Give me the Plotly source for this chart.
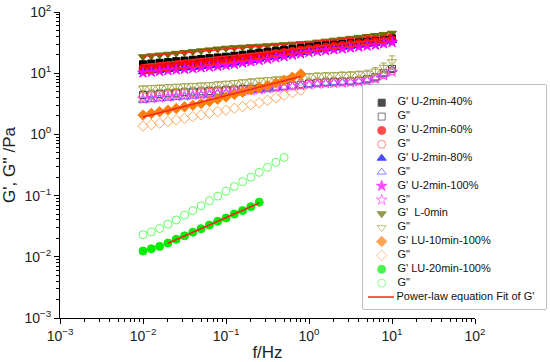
import numpy as np
import plotly.graph_objects as go

# frequency grid (10 points per decade from 0.01 Hz)
freq = [round(10 ** (-2 + 0.1 * k), 5) for k in range(31)]

# G' series (Pa)
gp_40 = [14.0,14.4,14.8,15.2,15.7,16.1,16.6,17.1,17.6,18.1,18.6,19.3,20.0,20.8,21.6,22.4,23.2,24.0,24.9,25.9,27.0,27.8,28.6,29.4,30.3,31.2,32.1,33.1,34.1,35.5,37.0]
gp_60 = [12.0,12.4,12.8,13.2,13.7,14.1,14.5,14.9,15.3,15.6,16.0,16.8,17.6,18.4,19.2,20.1,21.0,21.9,22.9,23.9,25.0,25.9,26.8,27.7,28.6,29.6,30.6,31.6,32.6,34.0,35.5]
gp_80 = [10.6,10.9,11.2,11.5,11.9,12.2,12.5,12.9,13.3,13.6,14.0,14.7,15.4,16.2,17.0,17.9,18.8,19.7,20.7,21.8,23.0,23.9,24.8,25.7,26.6,27.6,28.6,29.7,30.8,32.3,34.0]
gp_100 = [10.2,10.5,10.8,11.1,11.4,11.7,12.0,12.4,12.8,13.1,13.5,14.1,14.8,15.5,16.3,17.1,18.0,18.9,19.9,20.9,22.0,22.8,23.6,24.4,25.2,26.1,27.0,28.0,29.0,30.5,32.0]
gp_l0 = [18.6,19.2,19.8,20.4,21.1,21.8,22.5,23.2,24.0,24.8,25.6,26.1,26.6,27.1,27.6,28.1,28.6,29.2,29.8,30.4,31.0,32.2,33.4,34.6,35.8,37.1,38.4,39.8,41.3,43.0,45.0]

# G'' series (Pa)
gpp_40 = [4.4,4.5,4.6,4.7,4.8,4.9,5.0,5.05,5.1,5.2,5.3,5.4,5.5,5.6,5.7,5.85,6.0,6.15,6.3,6.5,6.8,7.0,7.1,7.2,7.3,7.4,7.6,8.0,8.6,10.0,11.7]
gpp_60 = [4.2,4.3,4.4,4.5,4.6,4.7,4.8,4.85,4.9,5.0,5.1,5.2,5.3,5.45,5.6,5.75,5.9,6.05,6.2,6.45,6.7,6.9,7.0,7.1,7.2,7.3,7.5,7.8,8.3,9.5,11.0]
gpp_80 = [3.6,3.7,3.8,3.9,4.0,4.1,4.2,4.35,4.45,4.6,4.7,4.85,5.0,5.15,5.3,5.5,5.7,5.9,6.1,6.3,6.5,6.7,6.85,7.0,7.1,7.2,7.4,7.8,8.4,9.8,11.5]
gpp_100 = [3.8,3.9,4.0,4.1,4.2,4.3,4.4,4.5,4.6,4.7,4.8,4.95,5.1,5.25,5.4,5.6,5.8,5.95,6.1,6.3,6.5,6.7,6.8,6.9,7.0,7.1,7.3,7.6,8.1,9.2,10.5]
gpp_l0 = [5.7,5.8,5.9,6.0,6.1,6.2,6.3,6.4,6.5,6.65,6.8,7.0,7.2,7.4,7.6,7.8,8.0,8.2,8.4,8.7,9.0,9.2,9.3,9.4,9.5,9.6,9.8,10.0,10.8,12.5,15.4]
gpp_l0_err = [0.5,0.5,0.5,0.5,0.5,0.5,0.5,0.5,0.5,0.6,0.6,0.6,0.6,0.7,0.7,0.7,0.7,0.7,0.8,0.8,0.9,0.9,0.9,0.9,1.0,1.0,1.0,1.2,1.5,2.2,3.8]

# LU-10min-100% (20 points)
gp_lu10 = [2.07,2.2,2.34,2.49,2.65,2.82,3.0,3.2,3.45,3.75,4.1,4.5,4.9,5.35,5.8,6.3,6.9,7.6,8.6,9.7]
gpp_lu10 = [1.37,1.45,1.53,1.62,1.72,1.83,1.95,2.08,2.22,2.36,2.5,2.67,2.85,3.05,3.3,3.6,3.95,4.35,4.8,5.3]

# LU-20min-100%
gp_lu20 = [0.0124,0.0135,0.0148,0.0168,0.0193,0.022,0.0252,0.0288,0.033,0.038,0.043,0.050,0.057,0.066,0.078]
gpp_lu20 = [0.023,0.0255,0.029,0.034,0.040,0.048,0.057,0.068,0.082,0.098,0.118,0.141,0.169,0.20,0.24,0.29,0.35,0.42,0.50]

# legend labels (in order)
legend_labels = ["G' U-2min-40%", 'G"', "G' U-2min-60%", 'G"', "G' U-2min-80%", 'G"',
                 "G' U-2min-100%", 'G"', "G'&nbsp;&nbsp;L-0min", 'G"', "G' LU-10min-100%", 'G"',
                 "G' LU-20min-100%", 'G"', "Power-law equation Fit of G'"]

fit_color = "#FF2020"
olive = "#6E6E00"
olive_l = "#A6A650"

styles = [
    ("square", "#000000", 7), ("square-open", "#404040", 7),
    ("circle", "#FF0000", 8), ("circle-open", "#FF5050", 8),
    ("triangle-up", "#0000FF", 8), ("triangle-up-open", "#5050FF", 8),
    ("star", "#FF00FF", 8), ("star-open", "#FF40FF", 8),
    ("triangle-down", olive, 8), ("triangle-down-open", olive_l, 8),
    ("diamond", "#FF7F0E", 8), ("diamond-open", "#FFAA60", 8),
    ("circle", "#00EE00", 8), ("circle-open", "#60FF60", 8),
]

fig = go.Figure()

def add(x, y, idx, err=None):
    symbol, color, size = styles[idx]
    kw = {}
    if err is not None:
        kw["error_y"] = dict(type="data", array=err, visible=True, color=color, thickness=1, width=3)
    fig.add_trace(go.Scatter(
        x=x, y=y, mode="markers", showlegend=False,
        marker=dict(symbol=symbol, color=color, size=size,
                    line=dict(color=color, width=1)),
        **kw))

def add_fit(x, y, start=0):
    x = np.asarray(x[:len(y)])[start:]
    y = np.asarray(y)[start:]
    n, c = np.polyfit(np.log10(x), np.log10(y), 1)
    xs = np.array([x[0], x[-1]])
    fig.add_trace(go.Scatter(
        x=xs, y=10 ** (c + n * np.log10(xs)), mode="lines",
        line=dict(color=fit_color, width=1.5), showlegend=False))

add(freq, gpp_40, 1)
add(freq, gpp_60, 3)
add(freq, gpp_80, 5)
add(freq, gpp_100, 7)
add(freq, gpp_l0, 9, err=gpp_l0_err)
add(freq, gp_l0, 8)
add(freq, gp_40, 0)
add(freq, gp_60, 2)
add(freq, gp_80, 4)
add(freq, gp_100, 6)
add(freq[:20], gpp_lu10, 11)
add(freq[:20], gp_lu10, 10)
add(freq[:18], gpp_lu20, 13)
add(freq[:15], gp_lu20, 12)

add_fit(freq, gp_l0)
add_fit(freq, gp_40)
add_fit(freq, gp_80)
add_fit(freq, gp_lu10)
add_fit(freq, gp_lu20, start=3)

# ---- hand-built legend on a hidden helper axis (rows indexed 0..14) ----
rows = list(range(len(legend_labels)))
fig.add_trace(go.Scatter(
    x=[18.7] * len(styles), y=rows[:len(styles)], mode="markers",
    marker=dict(symbol=[s[0] for s in styles], color=[s[1] for s in styles],
                size=[s[2] for s in styles], line=dict(color=[s[1] for s in styles], width=1)),
    xaxis="x2", yaxis="y2", showlegend=False, hoverinfo="skip", cliponaxis=False))
fig.add_trace(go.Scatter(
    x=[5, 31], y=[rows[-1], rows[-1]], mode="lines",
    line=dict(color=fit_color, width=1.5),
    xaxis="x2", yaxis="y2", showlegend=False, hoverinfo="skip"))
fig.add_trace(go.Scatter(
    x=[34.5] * (len(legend_labels) - 1) + [33.5], y=rows, mode="text",
    text=legend_labels, textposition="middle right",
    textfont=dict(size=11, color="#111", family="Liberation Sans, Arial, sans-serif"),
    xaxis="x2", yaxis="y2", showlegend=False, hoverinfo="skip", cliponaxis=False))

tickvals = [1e-3, 1e-2, 1e-1, 1, 10, 100]
ticktext = ["10<sup>\u22123</sup>", "10<sup>\u22122</sup>", "10<sup>\u22121</sup>",
            "10<sup>0</sup>", "10<sup>1</sup>", "10<sup>2</sup>"]
minor_vals = [m * 10.0 ** e for e in range(-3, 2) for m in range(2, 10)]

axis_common = dict(
    type="log", range=[-3, 2], showgrid=False, zeroline=False,
    showline=True, linecolor="black", linewidth=1,
    ticks="outside", ticklen=5, tickcolor="black",
    tickvals=tickvals, ticktext=ticktext,
    tickfont=dict(size=14, color="#222"),
    automargin=False,
    minor=dict(ticks="outside", ticklen=3, tickcolor="black", showgrid=False,
               tickvals=minor_vals),
)

W_PLOT = 415.0
W_PAPER = 486.0
row_px = 13.88
top_px, bot_px, first_px = 85.0, 309.0, 102.7

fig.update_layout(
    width=550, height=362,
    margin=dict(l=60, r=4, t=12, b=44, autoexpand=False),
    paper_bgcolor="white", plot_bgcolor="white",
    font=dict(family="Liberation Sans, Arial, sans-serif", color="#222"),
    xaxis=dict(**axis_common, domain=[0, W_PLOT / W_PAPER],
               title=dict(text="f/Hz", font=dict(size=17))),
    yaxis=dict(**axis_common, title=dict(text="G', G'' /Pa", font=dict(size=17))),
    xaxis2=dict(domain=[303 / W_PAPER, 1.0], range=[0, 183], visible=False,
                anchor="y2", fixedrange=True, automargin=False),
    yaxis2=dict(domain=[(318 - bot_px) / 306.0, (318 - top_px) / 306.0],
                range=[(bot_px - first_px) / row_px, -(first_px - top_px) / row_px],
                visible=False, anchor="x2", fixedrange=True, automargin=False),
    shapes=[dict(type="rect", xref="paper", yref="paper",
                 x0=303 / W_PAPER, x1=1.0, y0=(318 - bot_px) / 306.0, y1=(318 - top_px) / 306.0,
                 line=dict(color="#808080", width=1), fillcolor="white", layer="below")],
    showlegend=False,
)

fig.write_html("out.html", config={"displayModeBar": False},
               post_script="document.body.style.margin='0px';document.body.style.overflow='hidden';")
